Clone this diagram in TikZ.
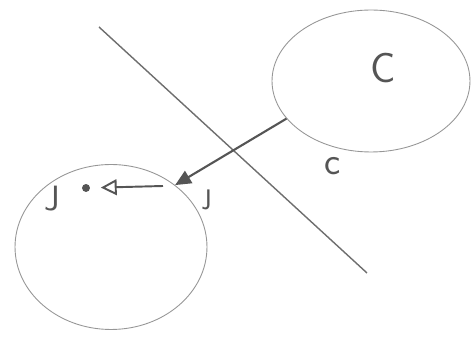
\documentclass[tikz,border=0pt]{standalone}
\definecolor{Pencil}{RGB}{150, 150, 150}
\definecolor{Lead}{RGB}{110, 110, 110}
\definecolor{Ink}{RGB}{85, 85, 85}
\usepackage{tikz}
\usetikzlibrary{arrows.meta, positioning, shapes.geometric}

\begin{document}
\begin{tikzpicture}[
    x=0.02cm, y=-0.02cm,
    every node/.style={font=\sffamily, text=Ink},
    blob/.style={ellipse, draw=Pencil, line width=0.5pt, inner sep=0pt}
]
\useasboundingbox (0,0) rectangle (474,337);
% Divider
\draw[Lead, line width=0.8pt] (99,27) -- (367,273);
% Upper blob
\node[blob, minimum width=3.96cm, minimum height=2.84cm] (upper) at (371,81) {};
\node[font=\sffamily\fontsize{24}{24}\selectfont] (bigC) at (383,68) {C};
\node[font=\sffamily\fontsize{22}{22}\selectfont] (smallc) at (333,166) {c};
% Lower blob
\node[blob, minimum width=3.84cm, minimum height=3.3cm] (lower) at (111,247) {};
\node[font=\sffamily\fontsize{20}{20}\selectfont] (bigJ) at (52,199) {J};
\node[font=\sffamily\fontsize{18}{18}\selectfont] (smallj) at (208,200) {\j};
\node[circle, fill=Ink, inner sep=1.6pt] (dot) at (86,188) {};
\coordinate (tail) at (163,186);
% Arrows
\draw[Ink, line width=1.2pt, -{Triangle[length=9pt, width=8pt]}] (upper.204) -- (lower.44);
\draw[Ink, line width=1.1pt, -{Triangle[open, length=9pt, width=9pt]}, shorten >=6pt] (tail) -- (dot);
\end{tikzpicture}
\end{document}
